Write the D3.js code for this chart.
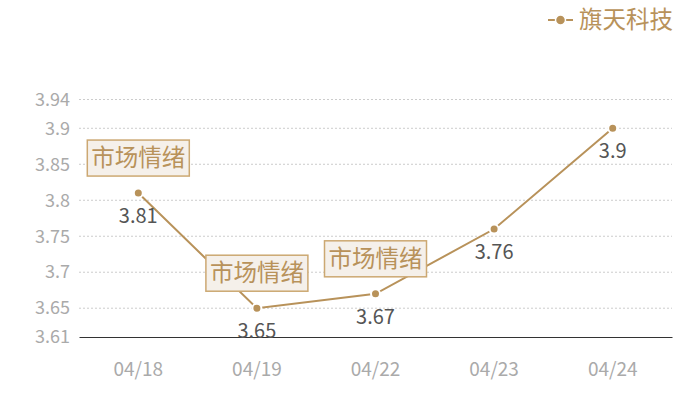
<!DOCTYPE html>
<html>
<head>
<meta charset="utf-8">
<script src="https://d3js.org/d3.v7.min.js"></script>
<style>
  body { margin: 0; background: #fff; }
  text { font-family: "Noto Sans CJK SC", "Noto Sans", sans-serif; }
</style>
</head>
<body>
<svg class="lineChart" width="700" height="400"></svg>
<script>
// dados
const dates = ['04/18', '04/19', '04/22', '04/23', '04/24'];
const prices = [3.81, 3.65, 3.67, 3.76, 3.9];
const yTicks = [3.61, 3.65, 3.7, 3.75, 3.8, 3.85, 3.9, 3.94];
const seriesName = '旗天科技';
const markDates = ['04/18', '04/19', '04/22'];
const markText = '市场情绪';

const gold = '#b8925a';

function plotarGrafico() {
  const svg = d3.select('.lineChart');
  const margin = { top: 99.5, right: 28, bottom: 63, left: 79 };
  const width = +svg.attr('width') - margin.left - margin.right;
  const height = +svg.attr('height') - margin.top - margin.bottom;
  const g = svg.append('g').attr('transform', `translate(${margin.left},${margin.top})`);

  const data = dates.map((d, i) => ({ date: d, value: prices[i] }));

  const x = d3.scaleBand().range([0, width]).domain(dates);
  const y = d3.scaleLinear().range([height, 0]).domain([yTicks[0], yTicks[yTicks.length - 1]]);
  const cx = d => x(d) + x.bandwidth() / 2;

  // grade
  g.append('g')
    .selectAll('line')
    .data(yTicks.slice(1))
    .enter().append('line')
    .attr('x1', 0).attr('x2', width)
    .attr('y1', d => y(d)).attr('y2', d => y(d))
    .attr('stroke', '#ccc')
    .attr('stroke-dasharray', '2,2');

  // eixo y
  const yAxis = g.append('g')
    .call(d3.axisLeft(y).tickValues(yTicks).tickSize(0).tickPadding(9).tickFormat(d => String(d)));
  yAxis.select('.domain').remove();
  yAxis.selectAll('text').attr('fill', '#aaa').style('font-size', '18px');

  // eixo x
  const xAxis = g.append('g')
    .attr('transform', `translate(0,${height})`)
    .call(d3.axisBottom(x).tickSize(0).tickPadding(26));
  xAxis.select('.domain').attr('stroke', '#333');
  xAxis.selectAll('text').attr('fill', '#aaa').style('font-size', '19px');

  // linha
  const line = d3.line().x(d => cx(d.date)).y(d => y(d.value));
  g.append('path')
    .datum(data)
    .attr('fill', 'none')
    .attr('stroke', gold)
    .attr('stroke-width', 2)
    .attr('d', line);

  g.selectAll('.pt')
    .data(data)
    .enter().append('circle')
    .attr('class', 'pt')
    .attr('cx', d => cx(d.date))
    .attr('cy', d => y(d.value))
    .attr('r', 4.5)
    .attr('fill', gold)
    .attr('stroke', '#fff')
    .attr('stroke-width', 2);

  // rótulos
  g.selectAll('.lbl')
    .data(data)
    .enter().append('text')
    .attr('class', 'lbl')
    .attr('x', d => cx(d.date))
    .attr('y', d => y(d.value) + 23)
    .attr('dy', '0.35em')
    .attr('text-anchor', 'middle')
    .attr('fill', '#555')
    .style('font-size', '20px')
    .text(d => d.value);

  // marcadores
  const marks = g.selectAll('.mark')
    .data(data.filter(d => markDates.includes(d.date)))
    .enter().append('g')
    .attr('class', 'mark')
    .attr('transform', d => `translate(${cx(d.date)},${y(d.value) - 35})`);
  marks.append('rect')
    .attr('x', -51).attr('y', -18)
    .attr('width', 102).attr('height', 36)
    .attr('fill', '#f5f0ea')
    .attr('stroke', '#cca872')
    .attr('stroke-width', 1.5);
  marks.append('text')
    .attr('text-anchor', 'middle')
    .attr('dy', '0.35em')
    .attr('fill', gold)
    .style('font-size', '23.5px')
    .text(markText);

  // legenda
  const leg = svg.append('g').attr('transform', 'translate(548,20)');
  leg.append('line').attr('x1', 0).attr('x2', 25).attr('stroke', gold).attr('stroke-width', 2);
  leg.append('circle').attr('cx', 12.5).attr('r', 5).attr('fill', gold).attr('stroke', '#fff').attr('stroke-width', 1.5);
  leg.append('text')
    .attr('x', 31)
    .attr('dy', '0.35em')
    .attr('fill', gold)
    .style('font-size', '23.5px')
    .text(seriesName);
}

plotarGrafico();
</script>
</body>
</html>
